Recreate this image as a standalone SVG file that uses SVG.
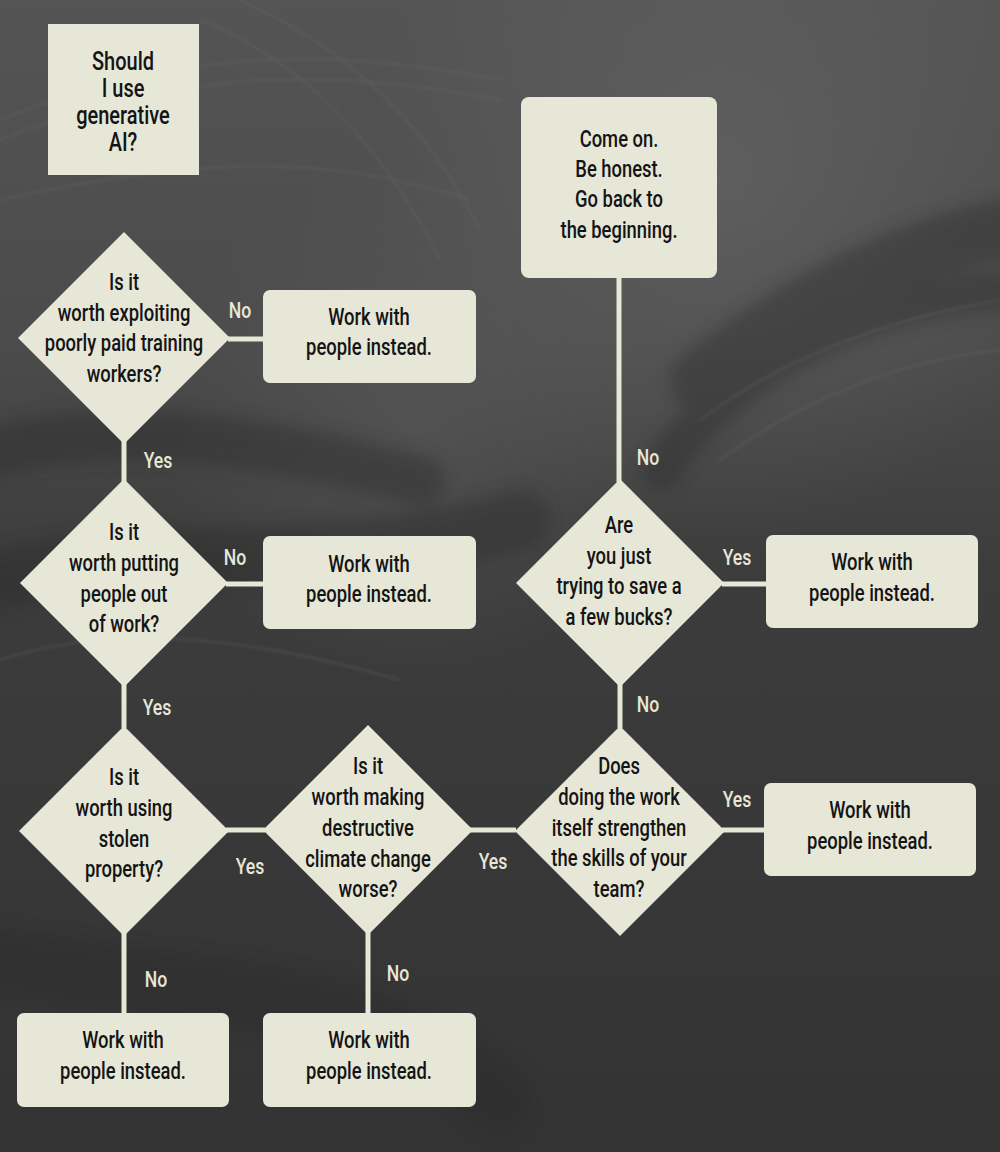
<svg xmlns="http://www.w3.org/2000/svg" width="1000" height="1152" viewBox="0 0 1000 1152">
<defs>
<linearGradient id="bg" x1="0" y1="0" x2="0" y2="1">
<stop offset="0" stop-color="#545454"/>
<stop offset="0.3" stop-color="#4b4b4b"/>
<stop offset="0.5" stop-color="#3c3c3c"/>
<stop offset="1" stop-color="#333333"/>
</linearGradient>
<radialGradient id="glow" cx="720" cy="180" r="360" gradientUnits="userSpaceOnUse">
<stop offset="0" stop-color="#6a6a6a" stop-opacity="0.55"/>
<stop offset="1" stop-color="#6a6a6a" stop-opacity="0"/>
</radialGradient>
<radialGradient id="glow2" cx="420" cy="420" r="260" gradientUnits="userSpaceOnUse">
<stop offset="0" stop-color="#5e5e5e" stop-opacity="0.5"/>
<stop offset="1" stop-color="#5e5e5e" stop-opacity="0"/>
</radialGradient>
<filter id="soft" x="-20%" y="-20%" width="140%" height="140%"><feGaussianBlur stdDeviation="8"/></filter>
<filter id="soft2" x="-20%" y="-20%" width="140%" height="140%"><feGaussianBlur stdDeviation="1.5"/></filter>
</defs>
<style>
.box{fill:#e7e7d8}
.t{font-family:Roboto,"DejaVu Sans Condensed","Liberation Sans",sans-serif;font-weight:500;font-size:23px;fill:#141414;text-anchor:middle}
.big{font-size:25px}
.lbl{font-family:Roboto,"DejaVu Sans Condensed","Liberation Sans",sans-serif;font-weight:500;font-size:22px;fill:#e7e7d8;text-anchor:middle}
.conn{stroke:#e7e7d8;stroke-width:5;fill:none}
.stroke-d{fill:none;stroke:#2a2a2a;stroke-linecap:round}
.stroke-l{fill:none;stroke:#707070;stroke-linecap:round}
</style>

<g id="background">
<rect width="1000" height="1152" fill="url(#bg)"/>
<rect width="1000" height="1152" fill="url(#glow)"/>
<rect width="1000" height="1152" fill="url(#glow2)"/>
<g filter="url(#soft)" opacity="0.4">
<path class="stroke-d" stroke-width="40" d="M660 470 C720 380 850 300 1000 290"/>
<path class="stroke-d" stroke-width="50" d="M0 450 C120 420 260 440 420 480"/>
<path class="stroke-d" stroke-width="60" d="M0 580 C150 540 300 580 520 520"/>
<path class="stroke-d" stroke-width="60" d="M700 380 C800 300 900 250 1000 230"/>
<path class="stroke-d" stroke-width="70" d="M0 960 C200 1000 350 980 500 1100"/>
</g>
<g filter="url(#soft2)" opacity="0.3">
<path class="stroke-l" stroke-width="2" d="M0 120 C150 60 300 40 500 80"/>
<path class="stroke-l" stroke-width="2" d="M0 140 C150 80 300 60 500 100"/>
<path class="stroke-l" stroke-width="2" d="M0 200 C180 160 320 150 470 200"/>
<path class="stroke-l" stroke-width="2" d="M200 20 C300 60 380 140 440 260"/>
<path class="stroke-l" stroke-width="2" d="M240 0 C330 40 420 110 480 230"/>
<path class="stroke-l" stroke-width="2" d="M700 420 C780 360 880 320 1000 300"/>
<path class="stroke-l" stroke-width="2" d="M720 460 C800 400 900 360 1000 350"/>
<path class="stroke-l" stroke-width="2" d="M0 660 C120 620 260 640 400 680"/>
</g>
</g>

<g id="connectors">
<line class="conn" x1="228" y1="339" x2="265" y2="339"/>
<line class="conn" x1="124" y1="440" x2="124" y2="482"/>
<line class="conn" x1="226" y1="584" x2="265" y2="584"/>
<line class="conn" x1="124" y1="684" x2="124" y2="728"/>
<line class="conn" x1="226" y1="830" x2="265" y2="830"/>
<line class="conn" x1="124" y1="932" x2="124" y2="1015"/>
<line class="conn" x1="470" y1="830" x2="516" y2="830"/>
<line class="conn" x1="368" y1="932" x2="368" y2="1015"/>
<line class="conn" x1="722" y1="830" x2="766" y2="830"/>
<line class="conn" x1="620" y1="684" x2="620" y2="728"/>
<line class="conn" x1="722" y1="584" x2="768" y2="584"/>
<line class="conn" x1="619" y1="276" x2="619" y2="482"/>
</g>

<g id="labels">
<text class="lbl" transform="matrix(0.8 0 0 1 240 318)">No</text>
<text class="lbl" transform="matrix(0.8 0 0 1 158 468)">Yes</text>
<text class="lbl" transform="matrix(0.8 0 0 1 235 565)">No</text>
<text class="lbl" transform="matrix(0.8 0 0 1 157 715)">Yes</text>
<text class="lbl" transform="matrix(0.8 0 0 1 250 874)">Yes</text>
<text class="lbl" transform="matrix(0.8 0 0 1 156 987)">No</text>
<text class="lbl" transform="matrix(0.8 0 0 1 493 869)">Yes</text>
<text class="lbl" transform="matrix(0.8 0 0 1 398 981)">No</text>
<text class="lbl" transform="matrix(0.8 0 0 1 737 807)">Yes</text>
<text class="lbl" transform="matrix(0.8 0 0 1 648 712)">No</text>
<text class="lbl" transform="matrix(0.8 0 0 1 737 565)">Yes</text>
<text class="lbl" transform="matrix(0.8 0 0 1 648 465)">No</text>
</g>

<g id="start">
<rect class="box" x="48" y="24" width="151" height="151"/>
<g transform="matrix(0.8 0 0 1 123 0)">
<text class="t big" y="70">Should</text>
<text class="t big" y="97">I use</text>
<text class="t big" y="124">generative</text>
<text class="t big" y="151">AI?</text>
</g>
</g>

<g id="q-exploit">
<polygon class="box" points="124,232 230,338 124,444 18,338"/>
<g transform="matrix(0.8 0 0 1 124 0)">
<text class="t" y="290">Is it</text>
<text class="t" y="321">worth exploiting</text>
<text class="t" y="351">poorly paid training</text>
<text class="t" y="382">workers?</text>
</g>
</g>

<g id="end-1">
<rect class="box" x="263" y="290" width="213" height="93" rx="7"/>
<g transform="matrix(0.8 0 0 1 369 0)">
<text class="t" y="325">Work with</text>
<text class="t" y="355">people instead.</text>
</g>
</g>

<g id="q-jobs">
<polygon class="box" points="124,479 228,583 124,687 20,583"/>
<g transform="matrix(0.8 0 0 1 124 0)">
<text class="t" y="540">Is it</text>
<text class="t" y="571">worth putting</text>
<text class="t" y="602">people out</text>
<text class="t" y="632">of work?</text>
</g>
</g>

<g id="end-2">
<rect class="box" x="263" y="536" width="213" height="93" rx="7"/>
<g transform="matrix(0.8 0 0 1 369 0)">
<text class="t" y="572">Work with</text>
<text class="t" y="602">people instead.</text>
</g>
</g>

<g id="q-stolen">
<polygon class="box" points="124,726 229,831 124,936 19,831"/>
<g transform="matrix(0.8 0 0 1 124 0)">
<text class="t" y="785">Is it</text>
<text class="t" y="816">worth using</text>
<text class="t" y="847">stolen</text>
<text class="t" y="877">property?</text>
</g>
</g>

<g id="end-3">
<rect class="box" x="17" y="1013" width="212" height="94" rx="7"/>
<g transform="matrix(0.8 0 0 1 123 0)">
<text class="t" y="1048">Work with</text>
<text class="t" y="1079">people instead.</text>
</g>
</g>

<g id="q-climate">
<polygon class="box" points="368,725 473,830 368,935 263,830"/>
<g transform="matrix(0.8 0 0 1 368 0)">
<text class="t" y="774">Is it</text>
<text class="t" y="805">worth making</text>
<text class="t" y="836">destructive</text>
<text class="t" y="867">climate change</text>
<text class="t" y="897">worse?</text>
</g>
</g>

<g id="end-4">
<rect class="box" x="263" y="1013" width="213" height="94" rx="7"/>
<g transform="matrix(0.8 0 0 1 369 0)">
<text class="t" y="1048">Work with</text>
<text class="t" y="1079">people instead.</text>
</g>
</g>

<g id="q-skills">
<polygon class="box" points="620,726 725,831 620,936 515,831"/>
<g transform="matrix(0.8 0 0 1 619 0)">
<text class="t" y="774">Does</text>
<text class="t" y="805">doing the work</text>
<text class="t" y="836">itself strengthen</text>
<text class="t" y="866">the skills of your</text>
<text class="t" y="897">team?</text>
</g>
</g>

<g id="end-5">
<rect class="box" x="764" y="783" width="212" height="93" rx="7"/>
<g transform="matrix(0.8 0 0 1 870 0)">
<text class="t" y="818">Work with</text>
<text class="t" y="849">people instead.</text>
</g>
</g>

<g id="q-bucks">
<polygon class="box" points="620,479 724,583 620,687 516,583"/>
<g transform="matrix(0.8 0 0 1 619 0)">
<text class="t" y="533">Are</text>
<text class="t" y="564">you just</text>
<text class="t" y="594">trying to save a</text>
<text class="t" y="625">a few bucks?</text>
</g>
</g>

<g id="end-6">
<rect class="box" x="766" y="535" width="212" height="93" rx="7"/>
<g transform="matrix(0.8 0 0 1 872 0)">
<text class="t" y="570">Work with</text>
<text class="t" y="601">people instead.</text>
</g>
</g>

<g id="honest">
<rect class="box" x="521" y="97" width="196" height="181" rx="8"/>
<g transform="matrix(0.8 0 0 1 619 0)">
<text class="t" y="147">Come on.</text>
<text class="t" y="177">Be honest.</text>
<text class="t" y="207">Go back to</text>
<text class="t" y="238">the beginning.</text>
</g>
</g>
</svg>
